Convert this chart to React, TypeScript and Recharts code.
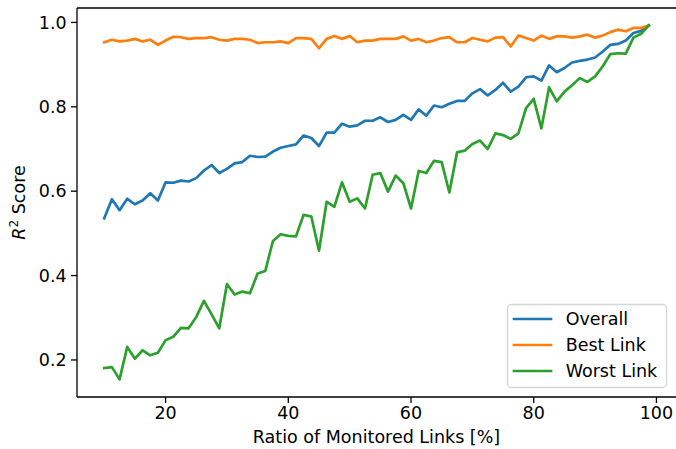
import React from 'react';
import { LineChart, Line, XAxis, YAxis, ReferenceLine } from 'recharts';

const ratios = [
  10, 11.25, 12.5, 13.75, 15, 16.25, 17.5, 18.75, 20, 21.25, 22.5, 23.75,
  25, 26.25, 27.5, 28.75, 30, 31.25, 32.5, 33.75, 35, 36.25, 37.5, 38.75,
  40, 41.25, 42.5, 43.75, 45, 46.25, 47.5, 48.75, 50, 51.25, 52.5, 53.75,
  55, 56.25, 57.5, 58.75, 60, 61.25, 62.5, 63.75, 65, 66.25, 67.5, 68.75,
  70, 71.25, 72.5, 73.75, 75, 76.25, 77.5, 78.75, 80, 81.25, 82.5, 83.75,
  85, 86.25, 87.5, 88.75, 90, 91.25, 92.5, 93.75, 95, 96.25, 97.5, 98.75,
];

const overall = [
  0.536, 0.581, 0.555, 0.582, 0.569, 0.578, 0.595, 0.578, 0.621, 0.620, 0.625, 0.623,
  0.631, 0.649, 0.662, 0.643, 0.653, 0.666, 0.669, 0.684, 0.681, 0.682, 0.694, 0.703,
  0.707, 0.711, 0.732, 0.726, 0.707, 0.739, 0.739, 0.760, 0.753, 0.756, 0.767, 0.767,
  0.775, 0.764, 0.769, 0.781, 0.769, 0.794, 0.779, 0.803, 0.799, 0.807, 0.814, 0.814,
  0.832, 0.842, 0.827, 0.840, 0.857, 0.836, 0.848, 0.870, 0.872, 0.862, 0.898, 0.882,
  0.892, 0.905, 0.909, 0.912, 0.917, 0.931, 0.947, 0.949, 0.957, 0.975, 0.980, 0.993,
];

const bestLink = [
  0.953, 0.959, 0.955, 0.957, 0.961, 0.955, 0.959, 0.947, 0.957, 0.966, 0.965, 0.961,
  0.963, 0.963, 0.965, 0.959, 0.957, 0.961, 0.961, 0.959, 0.951, 0.953, 0.953, 0.955,
  0.951, 0.963, 0.963, 0.961, 0.939, 0.961, 0.968, 0.961, 0.968, 0.953, 0.957, 0.957,
  0.961, 0.961, 0.961, 0.967, 0.957, 0.961, 0.953, 0.957, 0.963, 0.965, 0.953, 0.953,
  0.963, 0.959, 0.955, 0.964, 0.965, 0.943, 0.969, 0.963, 0.957, 0.969, 0.961, 0.967,
  0.967, 0.964, 0.967, 0.971, 0.964, 0.969, 0.977, 0.983, 0.979, 0.987, 0.987, 0.993,
];

const worstLink = [
  0.181, 0.183, 0.154, 0.231, 0.203, 0.223, 0.211, 0.217, 0.247, 0.255, 0.276, 0.275,
  0.302, 0.340, 0.308, 0.275, 0.380, 0.355, 0.362, 0.358, 0.405, 0.411, 0.482, 0.498,
  0.494, 0.493, 0.544, 0.540, 0.459, 0.575, 0.563, 0.621, 0.575, 0.583, 0.559, 0.639,
  0.643, 0.599, 0.637, 0.619, 0.559, 0.648, 0.643, 0.672, 0.669, 0.597, 0.692, 0.696,
  0.712, 0.720, 0.700, 0.737, 0.733, 0.724, 0.737, 0.797, 0.819, 0.749, 0.846, 0.813,
  0.836, 0.851, 0.868, 0.859, 0.872, 0.896, 0.925, 0.927, 0.926, 0.964, 0.973, 0.993,
];

const xTicks = [20, 40, 60, 80, 100];
const yTicks = [0.2, 0.4, 0.6, 0.8, 1.0];
const seriesKeys = ['overall', 'best', 'worst'];
const seriesNames = ['Overall', 'Best Link', 'Worst Link'];
const seriesColors = ['#1f77b4', '#ff7f0e', '#2ca02c'];

const data = ratios.map((r, i) => ({
  ratio: r,
  overall: overall[i],
  best: bestLink[i],
  worst: worstLink[i],
}));

const FONT = 'DejaVu Sans, sans-serif';
const FS = 17.5;
const X_DOMAIN: [number, number] = [5.5625, 103.1875];
const Y_DOMAIN: [number, number] = [0.1122, 1.0342];

export default function App() {
  return (
    <div
      style={{
        position: 'absolute',
        left: 0,
        top: 0,
        width: 676,
        height: 449,
        overflow: 'hidden',
        background: '#fff',
      }}
    >
      <LineChart
        width={686}
        height={449}
        data={data}
        margin={{ top: 8, right: 10, bottom: 0, left: 0 }}
      >
        <XAxis
          dataKey="ratio"
          type="number"
          domain={X_DOMAIN}
          allowDataOverflow
          ticks={xTicks}
          interval={0}
          height={52}
          tickSize={6}
          tickMargin={4}
          tick={{ fill: '#000', fontSize: FS, fontFamily: FONT }}
          tickLine={{ stroke: '#000', strokeWidth: 1.3 }}
          axisLine={{ stroke: '#000', strokeWidth: 1.3 }}
        />
        <YAxis
          type="number"
          domain={Y_DOMAIN}
          allowDataOverflow
          ticks={yTicks}
          interval={0}
          width={77}
          tickSize={6}
          tickMargin={4.3}
          tickFormatter={(v: number) => v.toFixed(1)}
          tick={{ fill: '#000', fontSize: FS, fontFamily: FONT }}
          tickLine={{ stroke: '#000', strokeWidth: 1.3 }}
          axisLine={{ stroke: '#000', strokeWidth: 1.3 }}
        />
        <ReferenceLine
          y={Y_DOMAIN[1]}
          stroke="#000"
          strokeWidth={1.3}
          ifOverflow="visible"
        />
        {seriesKeys.map((k, i) => (
          <Line
            key={k}
            dataKey={k}
            name={seriesNames[i]}
            type="linear"
            stroke={seriesColors[i]}
            strokeWidth={2.7}
            strokeLinejoin="round"
            strokeLinecap="square"
            dot={false}
            activeDot={false}
            isAnimationActive={false}
          />
        ))}
      </LineChart>
      <svg
        width={676}
        height={449}
        style={{ position: 'absolute', left: 0, top: 0, pointerEvents: 'none' }}
      >
        <text
          x={376.5}
          y={443}
          textAnchor="middle"
          fontFamily={FONT}
          fontSize={FS}
          fill="#000"
        >
          Ratio of Monitored Links [%]
        </text>
        <text
          transform="translate(24.5,202.5) rotate(-90)"
          textAnchor="middle"
          fontFamily={FONT}
          fontSize={FS}
          fill="#000"
        >
          <tspan fontStyle="italic">R</tspan>
          <tspan fontSize={FS * 0.7} dy={-7}>2</tspan>
          <tspan dy={7}> Score</tspan>
        </text>
        <rect
          x={507.5}
          y={304.5}
          width={159}
          height={83}
          rx={4}
          fill="#fff"
          fillOpacity={0.8}
          stroke="#cccccc"
          strokeOpacity={0.8}
          strokeWidth={1.3}
        />
        {seriesNames.map((n, i) => (
          <g key={n}>
            <line
              x1={514}
              x2={551}
              y1={319 + 26 * i}
              y2={319 + 26 * i}
              stroke={seriesColors[i]}
              strokeWidth={2.7}
              strokeLinecap="square"
            />
            <text
              x={565.7}
              y={325.3 + 26 * i}
              fontFamily={FONT}
              fontSize={FS}
              fill="#000"
            >
              {n}
            </text>
          </g>
        ))}
      </svg>
    </div>
  );
}
